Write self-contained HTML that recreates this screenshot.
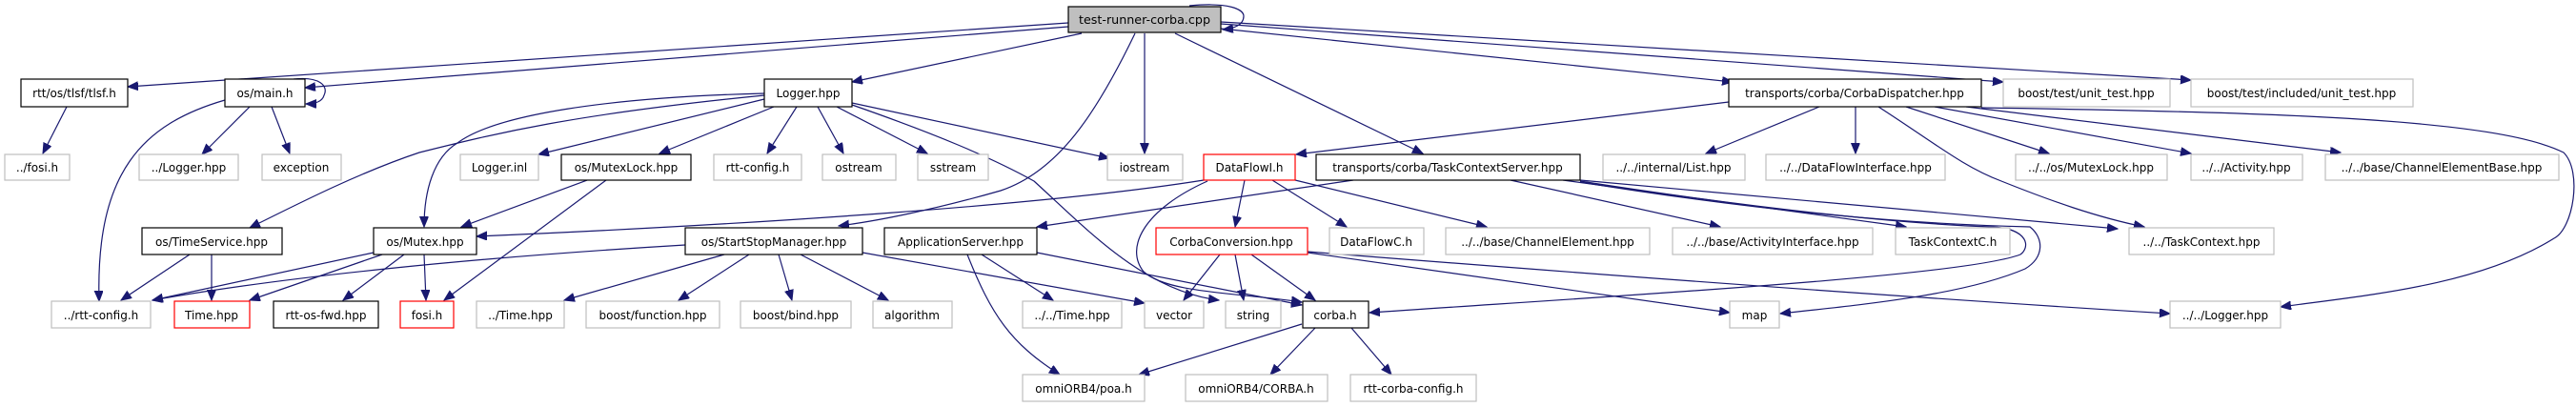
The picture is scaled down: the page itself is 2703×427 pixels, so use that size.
<!DOCTYPE html>
<html><head><meta charset="utf-8"><style>
html,body{margin:0;padding:0;background:#fff}
svg{display:block}
text{font-family:"DejaVu Sans","Liberation Sans",sans-serif;font-size:12px;fill:#000}
.e{fill:none;stroke:#191970;stroke-width:1.2}
.g{fill:#fff;stroke:#bfbfbf;stroke-width:1.2}
.b{fill:#fff;stroke:#000;stroke-width:1.2}
.r{fill:#fff;stroke:#ff0000;stroke-width:1.2}
</style></head><body>
<svg width="2703" height="427" viewBox="0 0 2703 427" xmlns="http://www.w3.org/2000/svg">
<defs><marker id="a" markerUnits="userSpaceOnUse" markerWidth="12" markerHeight="10" refX="11" refY="4.5" orient="auto"><path d="M0,0 L11,4.5 L0,9 z" fill="#191970" stroke="#191970"/></marker></defs>
<g class="e" marker-end="url(#a)">
<!-- test-runner -->
<path d="M1121,24 L134,91"/>
<path d="M1121,28 L320,92"/>
<path d="M1135,35 L894,86"/>
<path d="M1191,35 C1150,120 1110,180 1050,200 C980,220 920,232 880,237"/>
<path d="M1201,35 L1201,161"/>
<path d="M1233,35 L1493,161"/>
<path d="M1281,30 L1818,86"/>
<path d="M1281,25 L2102,86"/>
<path d="M1281,23 L2299,84"/>
<path d="M1248,6 C1290,2 1305,10 1305,17 C1305,26 1295,30 1283,31"/>
<!-- os/main.h -->
<path d="M308,83 C335,80 345,90 340,100 C338,107 330,109 321,109"/>
<path d="M236,105 C150,130 100,180 104,316"/>
<path d="M262,112 L212,162"/>
<path d="M285,112 L304,161"/>
<!-- tlsf -->
<path d="M70,112 L45,161"/>
<!-- Logger.hpp -->
<path d="M802,104 L565,162"/>
<path d="M812,112 L692,161"/>
<path d="M836,112 L805,161"/>
<path d="M858,112 L885,161"/>
<path d="M878,112 L973,161"/>
<path d="M894,108 L1164,166"/>
<path d="M802,100 C600,120 520,140 440,160 C380,180 320,210 262,239"/>
<path d="M802,98 C640,102 520,120 480,150 C455,165 445,200 445,238"/>
<path d="M894,110 C980,140 1040,165 1085,190 C1140,240 1200,305 1279,315"/>
<!-- MutexLock -->
<path d="M616,189 L484,238"/>
<path d="M636,189 L466,315"/>
<!-- TimeService -->
<path d="M199,267 L127,315"/>
<path d="M222,267 L222,315"/>
<!-- Mutex -->
<path d="M392,265 L160,315"/>
<path d="M401,267 L262,315"/>
<path d="M424,267 L360,315"/>
<path d="M445,267 L447,315"/>
<!-- DataFlowI -->
<path d="M1263,189 C1100,215 800,235 500,248"/>
<path d="M1306,189 L1296,238"/>
<path d="M1335,189 L1413,238"/>
<path d="M1359,189 L1560,238"/>
<path d="M1267,190 C1200,220 1180,260 1200,285 C1225,308 1300,307 1366,317"/>
<!-- CorbaDispatcher -->
<path d="M1814,107 L1360,162"/>
<path d="M1909,112 L1790,161"/>
<path d="M1947,112 L1947,161"/>
<path d="M2000,112 L2150,161"/>
<path d="M2030,112 L2299,161"/>
<path d="M2063,112 L2456,160"/>
<path d="M1971,112 C2030,150 2060,175 2100,190 C2150,210 2200,228 2250,238"/>
<path d="M2079,113 C2400,118 2620,125 2690,160 C2710,180 2700,240 2680,250 C2600,300 2480,310 2393,322"/>
<!-- TaskContextServer -->
<path d="M1420,189 L1088,238"/>
<path d="M1585,189 L1805,238"/>
<path d="M1640,189 L2000,238"/>
<path d="M1658,189 L2222,240"/>
<path d="M1658,190 C1850,220 2000,235 2090,238 C2130,240 2130,260 2120,267 C2060,290 1700,310 1437,328"/>
<path d="M1658,191 C1850,222 2000,235 2130,238 C2145,250 2145,270 2125,282 C2060,310 1950,320 1868,329"/>
<!-- CorbaConversion -->
<path d="M1280,267 L1242,315"/>
<path d="M1296,267 L1305,315"/>
<path d="M1313,267 L1380,315"/>
<path d="M1372,265 L1815,328"/>
<path d="M1372,264 C1700,290 2000,312 2277,329"/>
<!-- ApplicationServer -->
<path d="M1015,267 C1040,330 1060,360 1112,393"/>
<path d="M1030,267 L1105,315"/>
<path d="M1088,265 L1366,320"/>
<!-- StartStopManager -->
<path d="M719,257 C500,270 300,290 160,315"/>
<path d="M760,267 L592,315"/>
<path d="M786,267 L712,315"/>
<path d="M817,267 L831,315"/>
<path d="M840,267 L932,315"/>
<path d="M905,265 L1201,318"/>
<!-- corba.h -->
<path d="M1366,340 L1195,393"/>
<path d="M1380,344 L1333,393"/>
<path d="M1418,344 L1460,393"/>
</g>
<!-- nodes -->
<g>
<rect x="1121" y="7" width="160" height="27" fill="#bfbfbf" stroke="#000" stroke-width="1.2"/><text x="1201" y="25" text-anchor="middle" textLength="138" lengthAdjust="spacingAndGlyphs">test-runner-corba.cpp</text>
<rect class="b" x="22" y="83" width="112" height="29"/><text x="78" y="102" text-anchor="middle">rtt/os/tlsf/tlsf.h</text>
<rect class="b" x="236" y="83" width="84" height="29"/><text x="278" y="102" text-anchor="middle">os/main.h</text>
<rect class="b" x="802" y="83" width="92" height="29"/><text x="848" y="102" text-anchor="middle">Logger.hpp</text>
<rect class="b" x="1814" y="83" width="265" height="29"/><text x="1946" y="102" text-anchor="middle">transports/corba/CorbaDispatcher.hpp</text>
<rect class="g" x="2102" y="83" width="175" height="29"/><text x="2189" y="102" text-anchor="middle">boost/test/unit_test.hpp</text>
<rect class="g" x="2299" y="83" width="233" height="29"/><text x="2415" y="102" text-anchor="middle">boost/test/included/unit_test.hpp</text>

<rect class="g" x="5" y="162" width="68" height="27"/><text x="39" y="180" text-anchor="middle">../fosi.h</text>
<rect class="g" x="146" y="162" width="104" height="27"/><text x="198" y="180" text-anchor="middle">../Logger.hpp</text>
<rect class="g" x="275" y="162" width="83" height="27"/><text x="316" y="180" text-anchor="middle">exception</text>
<rect class="g" x="483" y="162" width="82" height="27"/><text x="524" y="180" text-anchor="middle">Logger.inl</text>
<rect class="b" x="589" y="162" width="136" height="27"/><text x="657" y="180" text-anchor="middle">os/MutexLock.hpp</text>
<rect class="g" x="749" y="162" width="92" height="27"/><text x="795" y="180" text-anchor="middle">rtt-config.h</text>
<rect class="g" x="863" y="162" width="77" height="27"/><text x="901" y="180" text-anchor="middle">ostream</text>
<rect class="g" x="963" y="162" width="74" height="27"/><text x="1000" y="180" text-anchor="middle">sstream</text>
<rect class="g" x="1162" y="162" width="79" height="27"/><text x="1201" y="180" text-anchor="middle">iostream</text>
<rect class="r" x="1263" y="162" width="96" height="27"/><text x="1311" y="180" text-anchor="middle">DataFlowI.h</text>
<rect class="b" x="1381" y="162" width="277" height="27"/><text x="1519" y="180" text-anchor="middle">transports/corba/TaskContextServer.hpp</text>
<rect class="g" x="1682" y="162" width="149" height="27"/><text x="1756" y="180" text-anchor="middle">../../internal/List.hpp</text>
<rect class="g" x="1853" y="162" width="188" height="27"/><text x="1947" y="180" text-anchor="middle">../../DataFlowInterface.hpp</text>
<rect class="g" x="2115" y="162" width="159" height="27"/><text x="2194" y="180" text-anchor="middle">../../os/MutexLock.hpp</text>
<rect class="g" x="2299" y="162" width="117" height="27"/><text x="2357" y="180" text-anchor="middle">../../Activity.hpp</text>
<rect class="g" x="2440" y="162" width="245" height="27"/><text x="2562" y="180" text-anchor="middle">../../base/ChannelElementBase.hpp</text>

<rect class="b" x="149" y="239" width="147" height="28"/><text x="222" y="258" text-anchor="middle">os/TimeService.hpp</text>
<rect class="b" x="392" y="239" width="108" height="28"/><text x="446" y="258" text-anchor="middle">os/Mutex.hpp</text>
<rect class="b" x="719" y="239" width="186" height="28"/><text x="812" y="258" text-anchor="middle">os/StartStopManager.hpp</text>
<rect class="b" x="928" y="239" width="160" height="28"/><text x="1008" y="258" text-anchor="middle">ApplicationServer.hpp</text>
<rect class="r" x="1213" y="239" width="159" height="28"/><text x="1292" y="258" text-anchor="middle">CorbaConversion.hpp</text>
<rect class="g" x="1395" y="239" width="99" height="28"/><text x="1444" y="258" text-anchor="middle">DataFlowC.h</text>
<rect class="g" x="1517" y="239" width="214" height="28"/><text x="1624" y="258" text-anchor="middle">../../base/ChannelElement.hpp</text>
<rect class="g" x="1755" y="239" width="210" height="28"/><text x="1860" y="258" text-anchor="middle">../../base/ActivityInterface.hpp</text>
<rect class="g" x="1989" y="239" width="120" height="28"/><text x="2049" y="258" text-anchor="middle">TaskContextC.h</text>
<rect class="g" x="2234" y="239" width="152" height="28"/><text x="2310" y="258" text-anchor="middle">../../TaskContext.hpp</text>

<rect class="g" x="54" y="316" width="104" height="28"/><text x="106" y="335" text-anchor="middle">../rtt-config.h</text>
<rect class="r" x="183" y="316" width="79" height="28"/><text x="222" y="335" text-anchor="middle">Time.hpp</text>
<rect class="b" x="287" y="316" width="110" height="28"/><text x="342" y="335" text-anchor="middle">rtt-os-fwd.hpp</text>
<rect class="r" x="420" y="316" width="56" height="28"/><text x="448" y="335" text-anchor="middle">fosi.h</text>
<rect class="g" x="500" y="316" width="92" height="28"/><text x="546" y="335" text-anchor="middle">../Time.hpp</text>
<rect class="g" x="615" y="316" width="140" height="28"/><text x="685" y="335" text-anchor="middle">boost/function.hpp</text>
<rect class="g" x="777" y="316" width="116" height="28"/><text x="835" y="335" text-anchor="middle">boost/bind.hpp</text>
<rect class="g" x="916" y="316" width="83" height="28"/><text x="957" y="335" text-anchor="middle">algorithm</text>
<rect class="g" x="1073" y="316" width="104" height="28"/><text x="1125" y="335" text-anchor="middle">../../Time.hpp</text>
<rect class="g" x="1201" y="316" width="62" height="28"/><text x="1232" y="335" text-anchor="middle">vector</text>
<rect class="g" x="1286" y="316" width="58" height="28"/><text x="1315" y="335" text-anchor="middle">string</text>
<rect class="b" x="1367" y="316" width="69" height="28"/><text x="1401" y="335" text-anchor="middle">corba.h</text>
<rect class="g" x="1815" y="316" width="52" height="28"/><text x="1841" y="335" text-anchor="middle">map</text>
<rect class="g" x="2277" y="316" width="116" height="28"/><text x="2335" y="335" text-anchor="middle">../../Logger.hpp</text>

<rect class="g" x="1073" y="393" width="128" height="28"/><text x="1137" y="412" text-anchor="middle">omniORB4/poa.h</text>
<rect class="g" x="1244" y="393" width="149" height="28"/><text x="1318" y="412" text-anchor="middle">omniORB4/CORBA.h</text>
<rect class="g" x="1417" y="393" width="132" height="28"/><text x="1483" y="412" text-anchor="middle">rtt-corba-config.h</text>
</g>
</svg>
</body></html>
